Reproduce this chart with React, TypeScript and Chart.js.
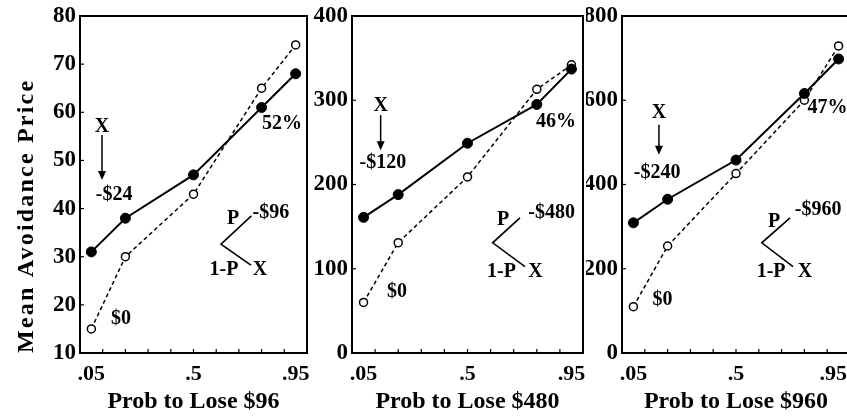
import React, { useEffect, useRef } from 'react';
import { Chart, registerables } from 'chart.js';

Chart.register(...registerables);

// ---------- data ----------
const probs = [0.05, 0.2, 0.5, 0.8, 0.95];
const xTickValues = [0.05, 0.5, 0.95];
const xTickLabels = ['.05', '.5', '.95'];
const minorTickValues = [0.1, 0.2, 0.3, 0.4, 0.5, 0.6, 0.7, 0.8, 0.9];

const lose96Mixed = [31, 38, 47, 61, 68];
const lose96Zero = [15, 30, 43, 65, 74];
const lose480Mixed = [161, 188, 249, 295, 337];
const lose480Zero = [60, 131, 209, 313, 342];
const lose960Mixed = [309, 365, 458, 616, 698];
const lose960Zero = [110, 254, 426, 600, 729];

const panelTitles = ['Prob to Lose $96', 'Prob to Lose $480', 'Prob to Lose $960'];
const yAxisTitle = 'Mean Avoidance Price';
const mixedLabels = ['-$24', '-$120', '-$240'];
const zeroLabel = '$0';
const lossLabels = ['-$96', '-$480', '-$960'];
const percentLabels = ['52%', '46%', '47%'];
const yMins = [10, 0, 0];
const yMaxs = [80, 400, 800];
const ySteps = [10, 100, 200];

const mixedSeries = [lose96Mixed, lose480Mixed, lose960Mixed];
const zeroSeries = [lose96Zero, lose480Zero, lose960Zero];

// ---------- layout (pixels / chart-area fractions) ----------
const FONT = "'Liberation Serif', 'Times New Roman', serif";
const PAGE_WIDTH = 847;
const panels = [
  {
    left: 0, width: 310, yAxisWidth: 80, padRight: 3,
    xLab: [0.097, 0.329], arrow: [0.097, 0.353, 0.487], mixedLab: [0.150, 0.531], zeroLab: [0.181, 0.899],
    pct: [0.89, 0.320], root: [0.621, 0.677], up: [0.755, 0.593], low: [0.753, 0.739],
    pLab: [0.674, 0.602], lossLab: [0.841, 0.585], qLab: [0.634, 0.754], xLab2: [0.793, 0.754],
  },
  {
    left: 310, width: 276, yAxisWidth: 42, padRight: 3,
    xLab: [0.124, 0.267], arrow: [0.124, 0.294, 0.398], mixedLab: [0.134, 0.436], zeroLab: [0.195, 0.819],
    pct: [0.883, 0.315], root: [0.609, 0.673], up: [0.727, 0.599], low: [0.749, 0.744],
    pLab: [0.654, 0.605], lossLab: [0.864, 0.585], qLab: [0.647, 0.760], xLab2: [0.794, 0.760],
  },
  {
    left: 586, width: 266, yAxisWidth: 36, padRight: 2,
    xLab: [0.162, 0.288], arrow: [0.162, 0.323, 0.412], mixedLab: [0.154, 0.466], zeroLab: [0.178, 0.843],
    pct: [0.901, 0.273], root: [0.613, 0.673], up: [0.737, 0.599], low: [0.750, 0.744],
    pLab: [0.667, 0.611], lossLab: [0.860, 0.576], qLab: [0.654, 0.760], xLab2: [0.803, 0.760],
  },
];

const decorPlugin = {
  id: 'decor',
  beforeDatasetsDraw(chart: any, _args: any, opts: any) {
    const ctx = chart.ctx;
    const A = chart.chartArea;
    ctx.save();
    ctx.strokeStyle = '#000';
    ctx.lineWidth = 2;
    ctx.strokeRect(A.left, A.top, A.right - A.left, A.bottom - A.top);
    ctx.lineWidth = 1.2;
    const ys = chart.scales.y;
    ys.ticks.forEach((t: any) => {
      const y = ys.getPixelForValue(t.value);
      ctx.beginPath();
      ctx.moveTo(A.left, y);
      ctx.lineTo(A.left + 4, y);
      ctx.stroke();
    });
    const xs = chart.scales.x;
    minorTickValues.forEach((v) => {
      const x = xs.getPixelForValue(v);
      ctx.beginPath();
      ctx.moveTo(x, A.bottom);
      ctx.lineTo(x, A.bottom - 4);
      ctx.stroke();
    });
    // x tick labels (drawn here so they do not shrink the plot area)
    ctx.fillStyle = '#000';
    ctx.font = `bold 22px ${FONT}`;
    ctx.textAlign = 'center';
    ctx.textBaseline = 'middle';
    xTickValues.forEach((v, k) => {
      const label = xTickLabels[k];
      const half = ctx.measureText(label).width / 2;
      const x = Math.min(xs.getPixelForValue(v), opts.visibleRight - half);
      ctx.fillText(label, x, A.bottom + 21);
    });
    if (opts.yTitle) {
      ctx.save();
      ctx.translate(opts.yTitleX, A.top + opts.yTitleFy * (A.bottom - A.top));
      ctx.rotate(-Math.PI / 2);
      ctx.font = `bold 24px ${FONT}`;
      ctx.textAlign = 'center';
      ctx.textBaseline = 'middle';
      try { (ctx as any).letterSpacing = '2.2px'; } catch (e) {}
      ctx.fillText(opts.yTitle, 0, 0);
      ctx.restore();
    }
    ctx.restore();
  },
  afterDatasetsDraw(chart: any, _args: any, opts: any) {
    const ctx = chart.ctx;
    const A = chart.chartArea;
    const p = opts.panel;
    const X = (f: number) => A.left + f * (A.right - A.left);
    const Y = (f: number) => A.top + f * (A.bottom - A.top);
    ctx.save();
    ctx.fillStyle = '#000';
    ctx.strokeStyle = '#000';
    ctx.font = `bold 20px ${FONT}`;
    ctx.textAlign = 'center';
    ctx.textBaseline = 'middle';
    const text = (t: string, at: number[]) => ctx.fillText(t, X(at[0]), Y(at[1]));
    text('X', p.xLab);
    text(opts.mixedLabel, p.mixedLab);
    text(opts.zeroLabel, p.zeroLab);
    text(opts.pctLabel, p.pct);
    text('P', p.pLab);
    text(opts.lossLabel, p.lossLab);
    text('1-P', p.qLab);
    text('X', p.xLab2);
    // arrow
    const ax = X(p.arrow[0]);
    const ay1 = Y(p.arrow[1]);
    const ay2 = Y(p.arrow[2]);
    ctx.lineWidth = 1.5;
    ctx.beginPath();
    ctx.moveTo(ax, ay1);
    ctx.lineTo(ax, ay2 - 6);
    ctx.stroke();
    ctx.beginPath();
    ctx.moveTo(ax - 4, ay2 - 9);
    ctx.lineTo(ax + 4, ay2 - 9);
    ctx.lineTo(ax, ay2);
    ctx.closePath();
    ctx.fill();
    // tree
    ctx.lineWidth = 1.6;
    ctx.beginPath();
    ctx.moveTo(X(p.up[0]), Y(p.up[1]));
    ctx.lineTo(X(p.root[0]), Y(p.root[1]));
    ctx.lineTo(X(p.low[0]), Y(p.low[1]));
    ctx.stroke();
    ctx.restore();
  },
};

export default function App() {
  const refs = [useRef<HTMLCanvasElement>(null), useRef<HTMLCanvasElement>(null), useRef<HTMLCanvasElement>(null)];

  useEffect(() => {
    Chart.defaults.font.family = FONT;
    Chart.defaults.color = '#000';
    const charts: Chart[] = [];
    panels.forEach((panel, i) => {
      const canvas = refs[i].current;
      if (!canvas) return;
      const chart = new Chart(canvas, {
        type: 'line',
        data: {
          datasets: [
            {
              label: mixedLabels[i],
              data: probs.map((x, k) => ({ x, y: mixedSeries[i][k] })),
              borderColor: '#000',
              borderWidth: 2,
              pointRadius: 5,
              pointBackgroundColor: '#000',
              pointBorderColor: '#000',
              pointBorderWidth: 1,
              tension: 0,
            },
            {
              label: zeroLabel,
              data: probs.map((x, k) => ({ x, y: zeroSeries[i][k] })),
              borderColor: '#000',
              borderWidth: 1.5,
              borderDash: [4, 3],
              pointRadius: 4,
              pointBackgroundColor: '#fff',
              pointBorderColor: '#000',
              pointBorderWidth: 1.5,
              tension: 0,
            },
          ],
        },
        options: {
          responsive: false,
          animation: false,
          layout: { autoPadding: false, padding: { top: 16, right: panel.padRight, left: 0, bottom: 0 } },
          plugins: {
            legend: { display: false },
            tooltip: { enabled: false },
            decor: {
              panel,
              mixedLabel: mixedLabels[i],
              zeroLabel,
              lossLabel: lossLabels[i],
              pctLabel: percentLabels[i],
              yTitle: i === 0 ? yAxisTitle : null,
              yTitleX: 27,
              yTitleFy: 0.593,
              visibleRight: Math.min(panel.width, PAGE_WIDTH - panel.left),
            },
          } as any,
          scales: {
            x: {
              type: 'linear',
              min: 0,
              max: 1,
              grid: { display: false, drawTicks: false },
              border: { display: false },
              afterBuildTicks: (scale: any) => {
                scale.ticks = xTickValues.map((v) => ({ value: v }));
              },
              afterFit: (scale: any) => {
                scale.height = 64;
              },
              ticks: { display: false },
              title: {
                display: true,
                text: panelTitles[i],
                font: { size: 24, weight: 'bold' },
                color: '#000',
                padding: { top: 0, bottom: 1 },
              },
            },
            y: {
              min: yMins[i],
              max: yMaxs[i],
              grid: { display: false, drawTicks: false },
              border: { display: false },
              afterFit: (scale: any) => {
                scale.width = panel.yAxisWidth;
                scale.paddingTop = 0;
                scale.paddingBottom = 0;
              },
              ticks: {
                stepSize: ySteps[i],
                padding: 4,
                font: { size: 23, weight: 'bold' },
                color: '#000',
              },
            },
          },
        },
        plugins: [decorPlugin as any],
      });
      charts.push(chart);
    });
    return () => charts.forEach((c) => c.destroy());
  }, []);

  return (
    <div style={{ position: 'fixed', left: 0, top: 0, width: PAGE_WIDTH, height: 417, overflow: 'hidden', background: '#fff' }}>
      {panels.map((p, i) => (
        <canvas
          key={i}
          ref={refs[i]}
          width={p.width}
          height={417}
          style={{ position: 'absolute', left: p.left, top: 0, width: p.width, height: 417, display: 'block' }}
        />
      ))}
    </div>
  );
}
